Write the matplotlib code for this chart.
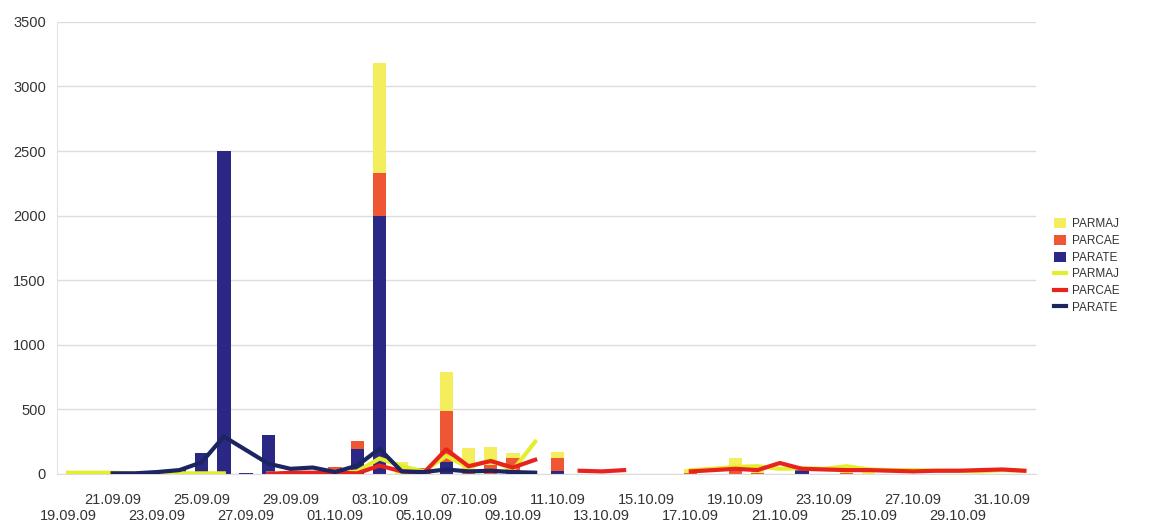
import numpy as np
import matplotlib
matplotlib.use("Agg")
import matplotlib.pyplot as plt

plt.rcParams['font.family'] = ['Liberation Sans', 'DejaVu Sans']

# dates 19.09.09 .. 01.11.09 (one category per day)
dates = ['19.09.09', '20.09.09', '21.09.09', '22.09.09', '23.09.09', '24.09.09',
         '25.09.09', '26.09.09', '27.09.09', '28.09.09', '29.09.09', '30.09.09',
         '01.10.09', '02.10.09', '03.10.09', '04.10.09', '05.10.09', '06.10.09',
         '07.10.09', '08.10.09', '09.10.09', '10.10.09', '11.10.09', '12.10.09',
         '13.10.09', '14.10.09', '15.10.09', '16.10.09', '17.10.09', '18.10.09',
         '19.10.09', '20.10.09', '21.10.09', '22.10.09', '23.10.09', '24.10.09',
         '25.10.09', '26.10.09', '27.10.09', '28.10.09', '29.10.09', '30.10.09',
         '31.10.09', '01.11.09']

nan = np.nan

# stacked bars
bar_parate = [0, 0, 0, 0, 0, 40, 160, 2500, 8, 300, 0, 0,
              0, 195, 2000, 0, 0, 90, 0, 0, 0, 0, 20, 0,
              0, 0, 0, 0, 0, 0, 0, 0, 0, 45, 0, 0,
              0, 0, 0, 0, 0, 0, 0, 0]
bar_parcae = [0, 0, 0, 0, 0, 0, 0, 0, 0, 0, 0, 0,
              55, 60, 330, 0, 45, 400, 10, 70, 120, 0, 100, 0,
              0, 0, 0, 0, 10, 0, 30, 10, 0, 0, 0, 10,
              0, 0, 0, 0, 0, 0, 0, 0]
bar_parmaj = [0, 0, 0, 0, 0, 0, 0, 0, 0, 0, 0, 0,
              0, 0, 850, 95, 0, 300, 190, 140, 45, 0, 50, 0,
              0, 0, 0, 0, 30, 0, 90, 50, 0, 0, 0, 50,
              20, 0, 0, 0, 0, 0, 0, 0]

# lines
line_parmaj = [10, 10, 10, 5, 5, 5, 5, 5, nan, 3, 3, 3,
               3, 20, 120, 60, 20, 140, 50, 110, 30, 250, nan, nan,
               nan, nan, nan, nan, 30, 40, 55, 60, 40, 45, 40, 60,
               35, 30, 30, 25, 25, 20, 30, 25]
line_parcae = [nan, nan, nan, nan, nan, nan, nan, nan, nan, 0, 10, 10,
               10, 5, 65, 20, 10, 190, 60, 100, 50, 110, nan, 25,
               20, 30, nan, nan, 20, 30, 40, 30, 85, 40, 35, 30,
               30, 25, 20, 25, 25, 30, 35, 25]
line_parate = [nan, nan, 5, 5, 15, 30, 90, 290, 185, 80, 40, 50,
               15, 65, 195, 20, 15, 35, 20, 25, 15, 10, nan, nan,
               nan, nan, nan, nan, nan, nan, nan, nan, nan, nan, nan, nan,
               nan, nan, nan, nan, nan, nan, nan, nan]

yticks = [0, 500, 1000, 1500, 2000, 2500, 3000, 3500]

c_bar_maj, c_bar_cae, c_bar_ate = '#F4EE5C', '#EE5634', '#2B2885'
c_ln_maj, c_ln_cae, c_ln_ate = '#E4EE2C', '#E8231E', '#1C2462'

fig = plt.figure(figsize=(11.69, 5.27), dpi=100)
ax = fig.add_axes([0.0488, 0.1006, 0.837, 0.858])

x = np.arange(len(dates))
b_ate = np.array(bar_parate, dtype=float)
b_cae = np.array(bar_parcae, dtype=float)
b_maj = np.array(bar_parmaj, dtype=float)

w = 0.6
h1 = ax.bar(x, b_ate, w, color=c_bar_ate, label='PARATE', zorder=2)
h2 = ax.bar(x, b_cae, w, bottom=b_ate, color=c_bar_cae, label='PARCAE', zorder=2)
h3 = ax.bar(x, b_maj, w, bottom=b_ate + b_cae, color=c_bar_maj, label='PARMAJ', zorder=2)

l1, = ax.plot(x, line_parmaj, color=c_ln_maj, lw=3, label='PARMAJ', zorder=3)
l2, = ax.plot(x, line_parcae, color=c_ln_cae, lw=3, label='PARCAE', zorder=4)
l3, = ax.plot(x, line_parate, color=c_ln_ate, lw=3, label='PARATE', zorder=5)

ax.set_xlim(-0.5, len(dates) - 0.5)
ax.set_ylim(0, 3500)
ax.set_yticks(yticks)
ax.set_yticklabels([str(v) for v in yticks], fontsize=10.5, color='#333333')
ax.grid(axis='y', color='#dcdcdc', lw=1, zorder=0)
ax.set_axisbelow(True)

# staggered date labels every second day: upper row = major, lower row = minor
upper = x[2::4]
lower = x[0::4]
ax.set_xticks(upper)
ax.set_xticklabels([dates[p] for p in upper], fontsize=10.5, color='#333333')
ax.set_xticks(lower, minor=True)
ax.set_xticklabels([dates[p] for p in lower], minor=True, fontsize=10.5, color='#333333')
ax.tick_params(axis='x', which='major', length=0, pad=13.5)
ax.tick_params(axis='x', which='minor', length=0, pad=25.5)
ax.tick_params(axis='y', length=0, pad=8)

for s in ['top', 'right']:
    ax.spines[s].set_visible(False)
ax.spines['left'].set_color('#e4e4e4')
ax.spines['bottom'].set_color('#dcdcdc')

leg = fig.legend([h3, h2, h1, l1, l2, l3],
                 ['PARMAJ', 'PARCAE', 'PARATE', 'PARMAJ', 'PARCAE', 'PARATE'],
                 loc='center left', bbox_to_anchor=(0.898, 0.495), frameon=False,
                 fontsize=8.5, handlelength=1.0, handleheight=0.9, labelspacing=0.4,
                 handletextpad=0.5, borderaxespad=0)
for t in leg.get_texts():
    t.set_color('#333333')

fig.savefig('out.png', dpi=100)
